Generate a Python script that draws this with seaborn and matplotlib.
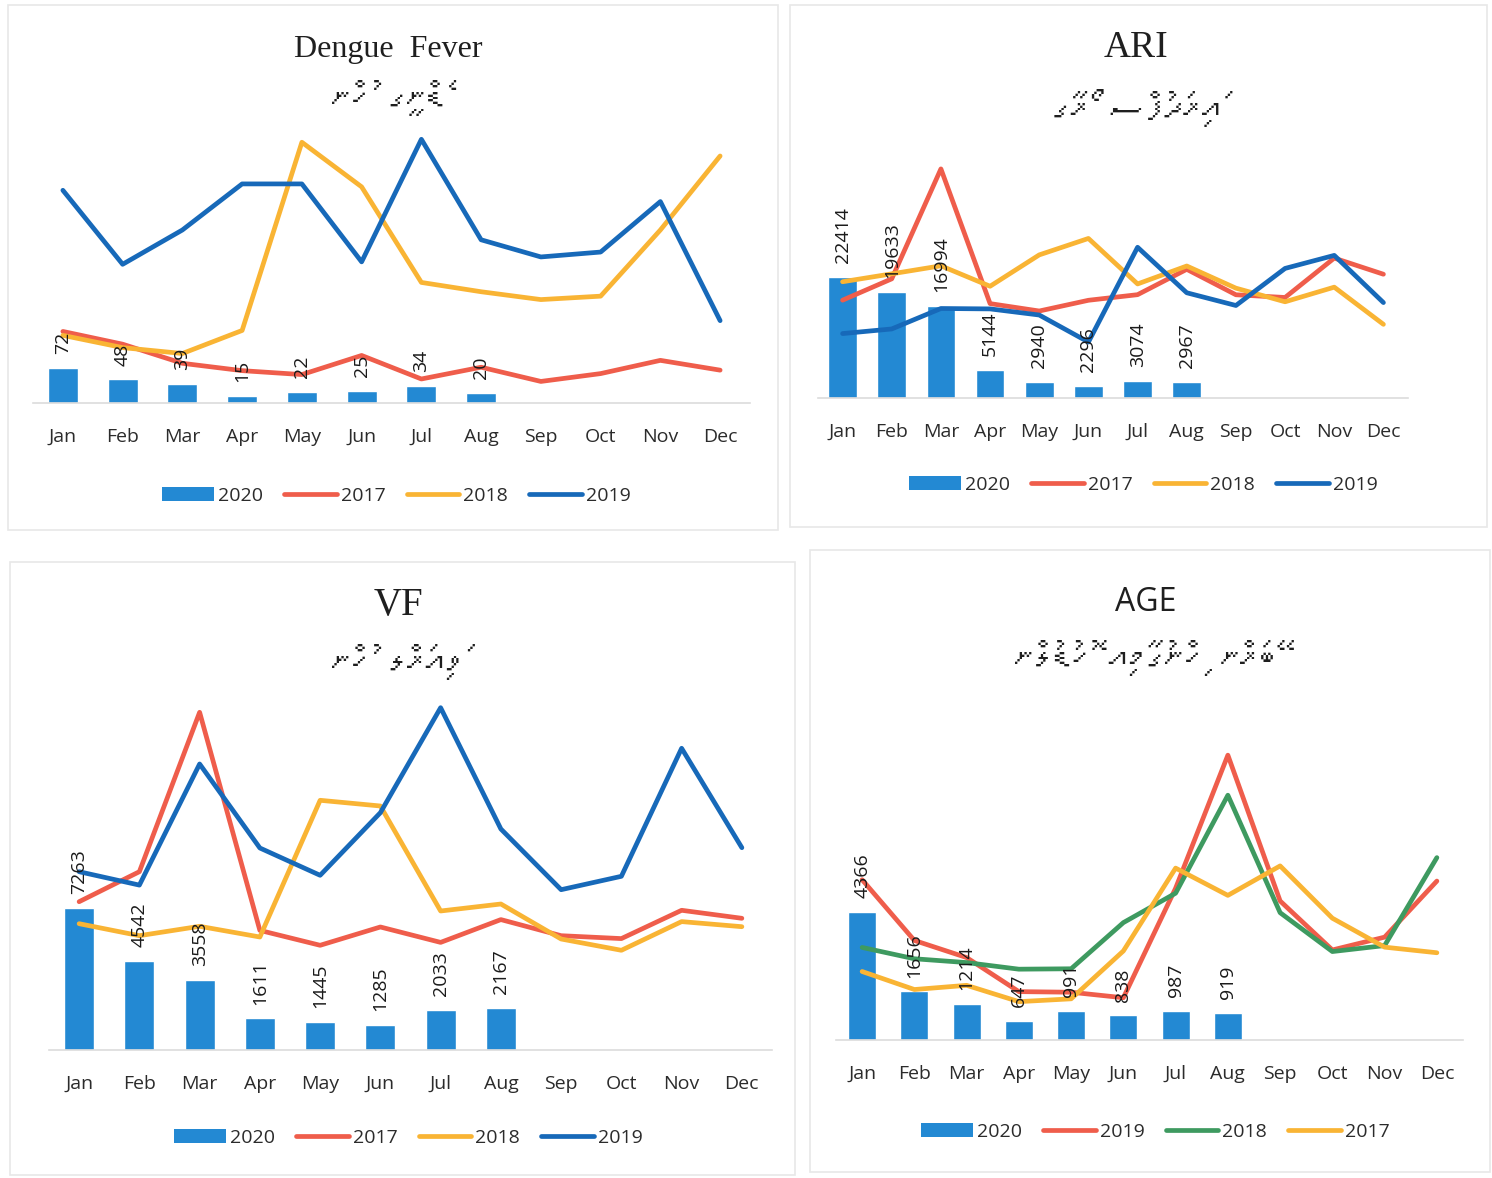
import unicodedata
import numpy as np
import pandas as pd
import matplotlib
matplotlib.use("Agg")
import matplotlib.pyplot as plt
import seaborn as sns
from matplotlib import font_manager
from matplotlib.ft2font import FT2Font
from matplotlib.patches import Rectangle, Patch
from matplotlib.lines import Line2D

# ---------------- data ----------------
months = ["Jan", "Feb", "Mar", "Apr", "May", "Jun",
          "Jul", "Aug", "Sep", "Oct", "Nov", "Dec"]

dengue_2020 = [72, 48, 39, 15, 22, 25, 34, 20]
dengue_2017 = [146, 120, 81, 66, 58, 97, 49, 73, 44, 60, 87, 67]
dengue_2018 = [138, 113, 101, 148, 532, 441, 246, 227, 211, 218, 353, 504]
dengue_2019 = [434, 283, 353, 447, 447, 288, 538, 333, 298, 308, 411, 168]

ari_2020 = [22414, 19633, 16994, 5144, 2940, 2296, 3074, 2967]
ari_2017 = [18074, 22019, 42333, 17444, 16074, 18056, 19093, 23778, 19074, 18574, 25852, 22870]
ari_2018 = [21481, 22944, 24426, 20648, 26444, 29481, 21074, 24389, 20296, 17778, 20481, 13611]
ari_2019 = [11907, 12759, 16537, 16463, 15333, 10333, 27852, 19444, 17093, 23944, 26352, 17630]

vf_2020 = [7263, 4542, 3558, 1611, 1445, 1285, 2033, 2167]
vf_2017 = [7566, 9097, 17230, 6102, 5342, 6276, 5490, 6653, 5832, 5684, 7128, 6719]
vf_2018 = [6444, 5832, 6311, 5765, 12740, 12449, 7092, 7449, 5663, 5087, 6551, 6291]
vf_2019 = [9097, 8413, 14592, 10306, 8913, 12107, 17464, 11276, 8179, 8862, 15393, 10321]

age_2020 = [4366, 1656, 1214, 647, 991, 838, 987, 919]
age_2019 = [5461, 3392, 2809, 1648, 1628, 1440, 5174, 9706, 4737, 3068, 3505, 5416]
age_2018 = [3154, 2768, 2638, 2413, 2427, 4000, 5003, 8341, 4338, 3014, 3218, 6215]
age_2017 = [2334, 1720, 1863, 1307, 1403, 3034, 5857, 4928, 5932, 4150, 3164, 2973]

titles = ["Dengue  Fever", "ARI", "VF", "AGE"]
subtitles = ["ޑެންގީ ހުން",
             "އަރިދަފުސް ރޯގާ",
             "ވައިރަލް ހުން",
             "ބޭރަން ހިންގުމާއި ހޮޑުލުން"]

# ---------------- style ----------------
sns.set_theme(style="white")
plt.rcParams["font.family"] = ["Open Sans", "DejaVu Sans"]

BAR = "#2389D3"
RED = "#EF5D4B"
YEL = "#F9B434"
BLU = "#1769B9"
GRN = "#3E9A60"
TXT = "#2b2b2b"


def find_font(ch):
    for f in font_manager.fontManager.ttflist:
        try:
            if ord(ch) in FT2Font(f.fname).get_charmap():
                return f.name
        except Exception:
            pass
    return None


thaana_font = find_font("\u0780") or "DejaVu Sans"


def visual_order(s):
    clusters = []
    for ch in s:
        if unicodedata.category(ch) == "Mn" and clusters:
            clusters[-1] += ch
        else:
            clusters.append(ch)
    return "".join(reversed(clusters))


W, H = 1492, 1178
fig = plt.figure(figsize=(W / 100, H / 100), dpi=100)
fig.patch.set_facecolor("white")


def rect_px(l, r, t, b):
    return [l / W, 1 - b / H, (r - l) / W, (b - t) / H]


# faint scanned panel borders
for (l, r, t, b) in [(8, 778, 5, 530), (790, 1487, 5, 527),
                     (10, 795, 562, 1175), (810, 1490, 550, 1172)]:
    fig.patches.append(Rectangle((l / W, 1 - b / H), (r - l) / W, (b - t) / H,
                                 transform=fig.transFigure, fill=False,
                                 edgecolor="#e8e8e8", lw=1.2))

panels = [
    dict(ax=(33, 750, 130, 403), ymax=557, bars=dengue_2020,
         lines=[("2017", dengue_2017, RED), ("2018", dengue_2018, YEL), ("2019", dengue_2019, BLU)],
         title_xy=(388, 50), sub_xy=(388, 98), title_font="Liberation Serif", tsize=23,
         leg_xy=(396, 496), bw=0.5),
    dict(ax=(818, 1408, 155, 398), ymax=44900, bars=ari_2020,
         lines=[("2017", ari_2017, RED), ("2018", ari_2018, YEL), ("2019", ari_2019, BLU)],
         title_xy=(1136, 48), sub_xy=(1136, 108), title_font="Liberation Serif", tsize=27,
         leg_xy=(1143, 485), bw=0.58),
    dict(ax=(49, 772, 687, 1050), ymax=18520, bars=vf_2020,
         lines=[("2017", vf_2017, RED), ("2018", vf_2018, YEL), ("2019", vf_2019, BLU)],
         title_xy=(398, 606), sub_xy=(398, 662), title_font="Liberation Serif", tsize=28,
         leg_xy=(408, 1138), bw=0.5),
    dict(ax=(836, 1463, 732, 1040), ymax=10495, bars=age_2020,
         lines=[("2019", age_2019, RED), ("2018", age_2018, GRN), ("2017", age_2017, YEL)],
         title_xy=(1146, 602), sub_xy=(1146, 658), title_font="Open Sans", tsize=23,
         leg_xy=(1155, 1132), bw=0.54),
]

for i, p in enumerate(panels):
    ax = fig.add_axes(rect_px(*p["ax"]))
    bar_df = pd.DataFrame({"month": months[:len(p["bars"])], "cases": p["bars"]})
    sns.barplot(data=bar_df, x="month", y="cases", order=months, color=BAR,
                saturation=1, width=p["bw"], ax=ax, zorder=2)
    for j, v in enumerate(p["bars"]):
        ax.annotate(f"{v}", (j, v), xytext=(0, 10), textcoords="offset points",
                    rotation=90, ha="center", va="bottom", fontsize=14,
                    color="#1a1a1a", zorder=6)
    line_df = pd.concat([pd.DataFrame({"pos": np.arange(12), "cases": vals, "year": yr})
                         for yr, vals, c in p["lines"]], ignore_index=True)
    pal = {yr: c for yr, vals, c in p["lines"]}
    sns.lineplot(data=line_df, x="pos", y="cases", hue="year", palette=pal,
                 hue_order=[yr for yr, _, _ in p["lines"]], sort=False,
                 linewidth=3.4, legend=False, ax=ax, zorder=4)
    ax.set_xlim(-0.5, 11.5)
    ax.set_ylim(0, p["ymax"])
    ax.set_xticks(range(12))
    ax.set_xticklabels(months, fontsize=14, color=TXT)
    ax.tick_params(axis="x", length=0, pad=18)
    ax.set_yticks([])
    ax.set_xlabel("")
    ax.set_ylabel("")
    for s in ["top", "right", "left"]:
        ax.spines[s].set_visible(False)
    ax.spines["bottom"].set_color("#dcdcdc")
    ax.spines["bottom"].set_linewidth(1.2)
    ax.set_facecolor("none")

    # titles
    tx, ty = p["title_xy"]
    fig.text(tx / W, 1 - ty / H, titles[i], ha="center", va="center",
             fontsize=p["tsize"], family=[p["title_font"], "DejaVu Sans"], color="#1f1f1f")
    sx, sy = p["sub_xy"]
    fig.text(sx / W, 1 - sy / H, visual_order(subtitles[i]), ha="center", va="center",
             fontsize=27, fontweight="bold", family=[thaana_font, "DejaVu Sans"],
             color="#1f1f1f")

    # legend
    handles = [Patch(facecolor=BAR, edgecolor="none")]
    labels = ["2020"]
    for yr, vals, c in p["lines"]:
        handles.append(Line2D([0], [0], color=c, lw=3.4))
        labels.append(yr)
    lx, ly = p["leg_xy"]
    ax.legend(handles, labels, loc="center", bbox_to_anchor=(lx / W, 1 - ly / H),
              bbox_transform=fig.transFigure, ncol=4, frameon=False, fontsize=14,
              handlelength=2.7, handleheight=0.7, handletextpad=0.2, columnspacing=1.1,
              labelcolor=TXT)

fig.savefig("out.png", dpi=100, facecolor="white")
